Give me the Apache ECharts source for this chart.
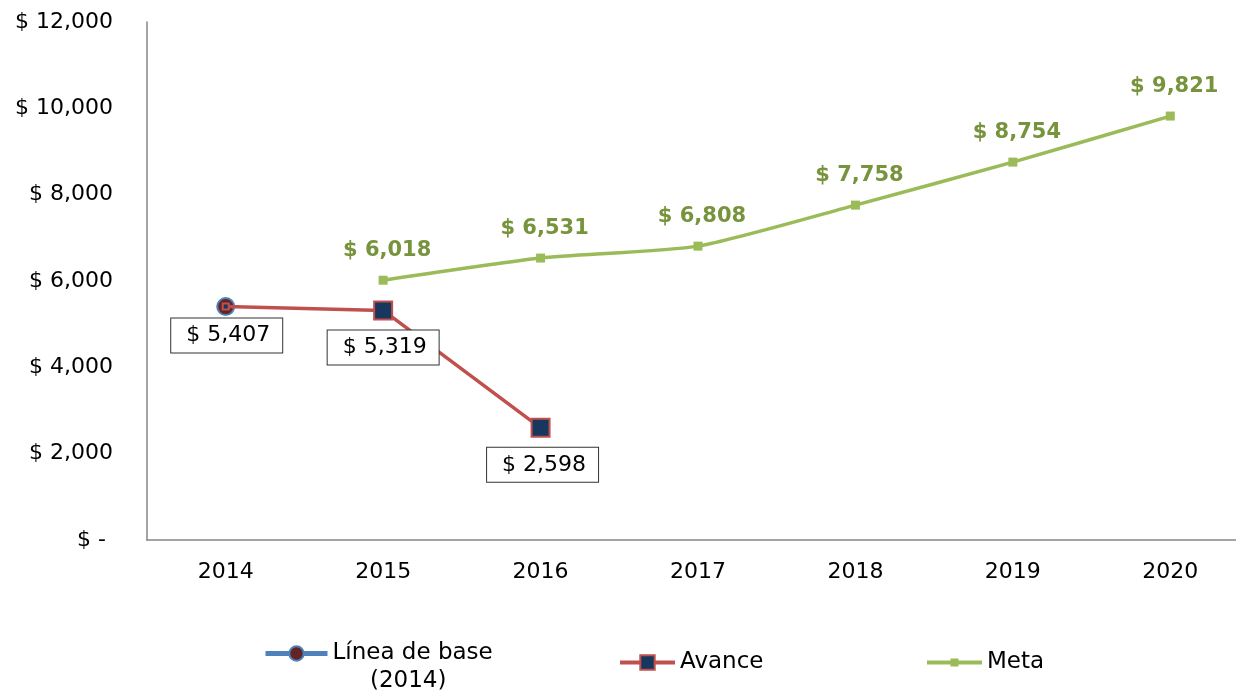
<!DOCTYPE html>
<html>
<head>
<meta charset="utf-8">
<script src="https://cdn.jsdelivr.net/npm/echarts@6/dist/echarts.min.js"></script>
<style>
html,body{margin:0;padding:0;background:#fff;overflow:hidden;width:1236px;height:696px;}
#chart{width:1249px;height:696px;}
</style>
</head>
<body>
<div id="chart"></div>
<script>
const categories = ['2014','2015','2016','2017','2018','2019','2020'];
const baseValues = [5407, null, null, null, null, null, null];
const avanceValues = [5407, 5319, 2598, null, null, null, null];
const metaValues = [null, 6018, 6531, 6808, 7758, 8754, 9821];
const yTicks = {min: 0, max: 12000, interval: 2000};
const seriesNames = ['Línea de base', 'Avance', 'Meta'];
const baseSubtitle = '(2014)';

const FONT = "'DejaVu Sans', sans-serif";
function fmt(v){ return v === 0 ? '$ - ' : '$ ' + v.toLocaleString('en-US'); }

const boxLabel = {
  show: true, position: 'inside', formatter: p => fmt(p.value),
  fontFamily: FONT, fontSize: 22, color: '#000',
  backgroundColor: '#fff', borderColor: '#333', borderWidth: 1,
  padding: [7, 12, 5, 15]
};

const chart = echarts.init(document.getElementById('chart'), null, {renderer: 'canvas'});
chart.setOption({
  animation: false,
  textStyle: {fontFamily: FONT},
  grid: {left: 147, top: 22, bottom: 156, right: 0, containLabel: false},
  xAxis: {
    type: 'category', data: categories, boundaryGap: true,
    axisLine: {show: true, lineStyle: {color: '#868686', width: 1.5}},
    axisTick: {show: false},
    axisLabel: {fontFamily: FONT, fontSize: 22, color: '#000', margin: 21},
    splitLine: {show: false}
  },
  yAxis: {
    type: 'value', min: yTicks.min, max: yTicks.max, interval: yTicks.interval,
    axisLine: {show: true, lineStyle: {color: '#868686', width: 1.5}},
    axisTick: {show: false},
    splitLine: {show: false},
    axisLabel: {fontFamily: FONT, fontSize: 22, color: '#000', margin: 34, formatter: fmt}
  },
  legend: [
    {left: 258, top: 637, itemWidth: 62, itemHeight: 18, data: [seriesNames[0]],
     lineStyle: {width: 5},
     textStyle: {fontFamily: FONT, fontSize: 23, color: '#000'}, selectedMode: false},
    {left: 613, top: 646, itemWidth: 55, itemHeight: 18, data: [seriesNames[1]],
     lineStyle: {width: 4},
     textStyle: {fontFamily: FONT, fontSize: 23, color: '#000'}, selectedMode: false},
    {left: 920, top: 646, itemWidth: 55, itemHeight: 10, data: [seriesNames[2]],
     lineStyle: {width: 4},
     textStyle: {fontFamily: FONT, fontSize: 23, color: '#000'}, selectedMode: false}
  ],
  graphic: [
    {type: 'text', left: 370, top: 670, style: {text: baseSubtitle, font: "23px 'DejaVu Sans', sans-serif", fill: '#000'}}
  ],
  series: [
    {
      name: seriesNames[0], type: 'line', data: baseValues, z: 2,
      symbol: 'circle', symbolSize: 17,
      itemStyle: {color: '#632523', borderColor: '#4F81BD', borderWidth: 2},
      lineStyle: {color: '#4F81BD', width: 4},
      label: Object.assign({}, boxLabel, {offset: [1, 29]})
    },
    {
      name: seriesNames[1], type: 'line', z: 3,
      data: avanceValues.map((v, i) => {
        if (v === null) return null;
        const item = {value: v};
        if (i === 0) { item.symbolSize = 6; }
        else {
          item.label = Object.assign({}, boxLabel, {offset: i === 1 ? [0, 37] : [2, 37]});
        }
        return item;
      }),
      symbol: 'rect', symbolSize: 18,
      itemStyle: {color: '#17375E', borderColor: '#C0504D', borderWidth: 2},
      lineStyle: {color: '#C0504D', width: 3.5}
    },
    {
      name: seriesNames[2], type: 'line', data: metaValues, z: 2,
      smooth: 0.2,
      symbol: 'rect', symbolSize: 9,
      itemStyle: {color: '#9BBB59'},
      lineStyle: {color: '#9BBB59', width: 3.5},
      label: {
        show: true, position: 'inside', offset: [4, -30], formatter: p => fmt(p.value),
        fontFamily: FONT, fontSize: 21, fontWeight: 'bold', color: '#77933C'
      }
    }
  ]
});
</script>
</body>
</html>
